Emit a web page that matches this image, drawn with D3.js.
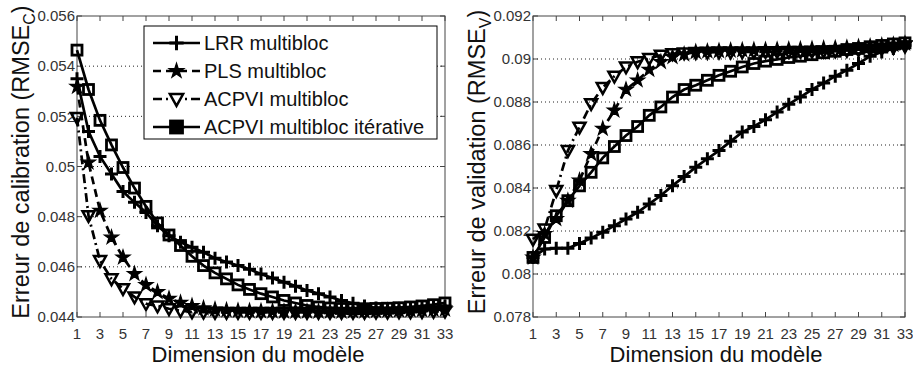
<!doctype html>
<html lang="fr">
<head>
  <meta charset="utf-8">
  <style>
    body { margin: 0; background-color: white; }
    svg { display: block; background-color: white; font-family: "Liberation Sans", Arial, sans-serif; }
    .frame { fill: none; stroke: #444; stroke-width: 1px; }
    .grid line { stroke: #222; stroke-width: 1px; stroke-dasharray: 1,3; }
    .tick-label { font-size: 15px; fill: #333; }
    .axis-title { font-size: 22px; fill: #111; }
    .series { fill: none; stroke: black; stroke-width: 2.7px; }
    .legend-box { fill: white; stroke: black; stroke-width: 1px; }
    .legend-text { font-size: 20px; fill: #111; }
  </style>
</head>
<body>
<script src="https://d3js.org/d3.v7.min.js"></script>
<script>
var width = 913,
    height = 367;

// model dimension (x axis)
var dims = [1,2,3,4,5,6,7,8,9,10,11,12,13,14,15,16,17,18,19,20,21,22,23,24,25,26,27,28,29,30,31,32,33];
var xTicks = [1,3,5,7,9,11,13,15,17,19,21,23,25,27,29,31,33];

// calibration error (RMSE_C)
var calLRR   = [0.0535,0.0514,0.0504,0.0497,0.0490,0.04857,0.04817,0.04764,0.04724,0.04698,0.04678,0.04658,0.04634,0.04619,0.04605,0.0459,0.04571,0.04555,0.04539,0.04523,0.04506,0.04493,0.0448,0.04466,0.04455,0.04444,0.04436,0.04433,0.04432,0.04433,0.04436,0.0444,0.04444];
var calPLS   = [0.05318,0.05016,0.04824,0.04717,0.04638,0.04572,0.04528,0.0450,0.04473,0.04457,0.04444,0.04435,0.0443,0.04427,0.04425,0.04424,0.04423,0.04423,0.04422,0.04422,0.04422,0.04422,0.04422,0.04422,0.04423,0.04423,0.04424,0.04425,0.04426,0.04427,0.04428,0.04429,0.0443];
var calACPVI = [0.05195,0.04804,0.04625,0.04552,0.04513,0.0448,0.04453,0.04444,0.04433,0.04425,0.0442,0.04419,0.04418,0.04418,0.04418,0.04418,0.04418,0.04418,0.04418,0.04418,0.04418,0.04418,0.04418,0.04418,0.04418,0.04418,0.04419,0.04419,0.0442,0.0442,0.04421,0.04422,0.04423];
var calIter  = [0.05464,0.05307,0.05184,0.05086,0.04996,0.04914,0.04841,0.04775,0.04727,0.04685,0.04642,0.04605,0.04576,0.04552,0.04528,0.0451,0.04493,0.0448,0.04466,0.04456,0.04446,0.0444,0.04436,0.04434,0.04433,0.04433,0.04434,0.04435,0.04437,0.0444,0.04444,0.04449,0.04456];
var calTicks = [0.044,0.046,0.048,0.05,0.052,0.054,0.056];

// validation error (RMSE_V)
var valLRR   = [0.08077,0.08116,0.0812,0.0812,0.08142,0.08167,0.08194,0.08225,0.08256,0.08287,0.08326,0.08365,0.08411,0.08453,0.08497,0.08536,0.08574,0.08617,0.0866,0.08686,0.08718,0.08753,0.0879,0.08823,0.08858,0.08888,0.0892,0.08948,0.08979,0.09013,0.09033,0.09049,0.09064];
var valPLS   = [0.08077,0.08186,0.08256,0.08341,0.08435,0.08559,0.08676,0.08761,0.08858,0.08901,0.0895,0.08987,0.0901,0.09022,0.09033,0.09036,0.09038,0.0904,0.09041,0.09042,0.09043,0.09044,0.09045,0.09046,0.09047,0.09049,0.09051,0.09053,0.09056,0.09059,0.09063,0.09067,0.09072];
var valACPVI = [0.08162,0.08209,0.08388,0.08574,0.08683,0.08792,0.08867,0.0892,0.08963,0.08987,0.09002,0.09018,0.09025,0.09028,0.0903,0.09031,0.09032,0.09032,0.09033,0.09033,0.09034,0.09034,0.09035,0.09035,0.09036,0.09037,0.09038,0.0904,0.09042,0.09045,0.09049,0.09054,0.0906];
var valIter  = [0.08077,0.0817,0.08271,0.08341,0.0841,0.08473,0.0854,0.08593,0.08644,0.08686,0.08738,0.08777,0.08823,0.08858,0.08878,0.08901,0.08924,0.08943,0.08963,0.08979,0.0899,0.08998,0.09007,0.09013,0.0902,0.09029,0.09036,0.09044,0.09049,0.09057,0.09063,0.0907,0.09075];
var valTicks = [0.078,0.08,0.082,0.084,0.086,0.088,0.09,0.092];

var seriesNames = ["LRR multibloc", "PLS multibloc", "ACPVI multibloc", "ACPVI multibloc itérative"];

// line + marker style for each method
var styles = [
  { dash: null,        marker: "plus" },
  { dash: "8,5",       marker: "star" },
  { dash: "9,4,2,4",   marker: "tri" },
  { dash: null,        marker: "square" }
];

var svg = d3.select("body").append("svg")
  .attr("width", width)
  .attr("height", height);

function drawMarker(sel, type, big) {
  var k = big ? 1.1 : 1;
  if (type === "plus") {
    sel.append("path")
      .attr("d", "M" + (-6.5*k) + ",0H" + (6.5*k) + "M0," + (-6.5*k) + "V" + (6.5*k))
      .attr("fill", "none").attr("stroke", "black").attr("stroke-width", 3);
  } else if (type === "star") {
    sel.append("path")
      .attr("d", d3.symbol().type(d3.symbolStar).size(big ? 68 : 62)())
      .attr("fill", "black").attr("stroke", "black").attr("stroke-width", 1.2);
  } else if (type === "tri") {
    var s = 6 * k;
    sel.append("path")
      .attr("d", "M" + (-s) + "," + (-s*0.75) + "L" + s + "," + (-s*0.75) + "L0," + (s*1.05) + "Z")
      .attr("fill", big ? "white" : "none").attr("stroke", "black").attr("stroke-width", 2.5);
  } else {
    var h = big ? 6 : 5;
    sel.append("rect")
      .attr("x", -h).attr("y", -h).attr("width", 2*h).attr("height", 2*h)
      .attr("fill", big ? "black" : "none").attr("stroke", "black").attr("stroke-width", 2.8);
  }
}

function drawPanel(left, right, top, bottom, yTicks, series, title, sub) {
  var x = d3.scaleLinear().domain([1, 33]).range([left, right]);
  var y = d3.scaleLinear().domain([yTicks[0], yTicks[yTicks.length - 1]]).range([bottom, top]);
  var g = svg.append("g");

  // horizontal grid
  g.append("g").attr("class", "grid")
    .selectAll("line")
    .data(yTicks.slice(1, -1))
    .enter().append("line")
    .attr("x1", left).attr("x2", right)
    .attr("y1", function(d) { return y(d); })
    .attr("y2", function(d) { return y(d); });

  // ticks, all four sides, inward
  var tk = g.append("g").attr("stroke", "#444").attr("stroke-width", 1);
  xTicks.forEach(function(t) {
    tk.append("line").attr("x1", x(t)).attr("x2", x(t)).attr("y1", bottom).attr("y2", bottom - 5);
    tk.append("line").attr("x1", x(t)).attr("x2", x(t)).attr("y1", top).attr("y2", top + 5);
  });
  yTicks.forEach(function(t) {
    tk.append("line").attr("x1", left).attr("x2", left + 5).attr("y1", y(t)).attr("y2", y(t));
    tk.append("line").attr("x1", right).attr("x2", right - 5).attr("y1", y(t)).attr("y2", y(t));
  });

  g.append("rect").attr("class", "frame")
    .attr("x", left).attr("y", top)
    .attr("width", right - left).attr("height", bottom - top);

  // tick labels
  g.selectAll(".xl").data(xTicks).enter().append("text")
    .attr("class", "tick-label")
    .attr("x", function(d) { return x(d); })
    .attr("y", 339)
    .attr("text-anchor", "middle")
    .text(function(d) { return d; });

  g.selectAll(".yl").data(yTicks).enter().append("text")
    .attr("class", "tick-label")
    .attr("x", left - 2)
    .attr("y", function(d) { return y(d); })
    .attr("dy", "0.35em")
    .attr("text-anchor", "end")
    .text(function(d) { return String(+d.toFixed(3)); });

  // curves
  var line = d3.line()
    .x(function(d, i) { return x(dims[i]); })
    .y(function(d) { return y(d); });

  series.forEach(function(vals, si) {
    var st = styles[si];
    g.append("path")
      .attr("class", "series")
      .attr("d", line(vals))
      .attr("stroke-dasharray", st.dash);
    var m = g.append("g");
    vals.forEach(function(v, i) {
      var mg = m.append("g").attr("transform", "translate(" + x(dims[i]) + "," + y(v) + ")");
      drawMarker(mg, st.marker, false);
    });
  });

  // axis titles
  g.append("text")
    .attr("class", "axis-title")
    .attr("x", (left + right) / 2 - 3)
    .attr("y", 362)
    .attr("text-anchor", "middle")
    .text("Dimension du modèle");

  var yt = g.append("text")
    .attr("class", "axis-title")
    .style("font-size", "23.5px")
    .attr("text-anchor", "middle")
    .attr("transform", "translate(" + (left - 48) + ",162) rotate(-90)");
  yt.append("tspan").text(title);
  yt.append("tspan").attr("font-size", "16px").attr("dy", 6).text(sub);
  yt.append("tspan").attr("dy", -6).text(")");
}

drawPanel(77, 445, 16, 317, calTicks, [calLRR, calPLS, calACPVI, calIter],
  "Erreur de calibration (RMSE", "C");
drawPanel(533, 905, 16, 317, valTicks, [valLRR, valPLS, valACPVI, valIter],
  "Erreur de validation (RMSE", "V");

// legend (left panel)
var lg = svg.append("g");
lg.append("rect").attr("class", "legend-box")
  .attr("x", 144).attr("y", 26).attr("width", 293).attr("height", 113);
seriesNames.forEach(function(name, i) {
  var cy = 43 + i * 28;
  var st = styles[i];
  lg.append("line")
    .attr("x1", 153).attr("x2", 200).attr("y1", cy).attr("y2", cy)
    .attr("stroke", "black").attr("stroke-width", 2.7)
    .attr("stroke-dasharray", st.dash);
  var mg = lg.append("g").attr("transform", "translate(176.5," + cy + ")");
  drawMarker(mg, st.marker, true);
  lg.append("text")
    .attr("class", "legend-text")
    .attr("x", 204).attr("y", cy + 7)
    .text(name);
});
</script>
</body>
</html>
